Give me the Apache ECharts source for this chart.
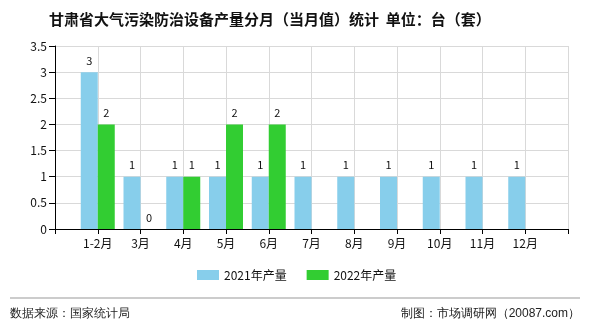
<!DOCTYPE html>
<html><head><meta charset="utf-8">
<script src="https://cdn.jsdelivr.net/npm/echarts@6/dist/echarts.min.js"></script>
<style>html,body{margin:0;padding:0;background:#fff}#c{width:590px;height:330px}</style>
</head><body><div id="c"></div>
<script>
const categories = ['', '1-2月', '3月', '4月', '5月', '6月', '7月', '8月', '9月', '10月', '11月', '12月', ''];
const seriesNames = ['2021年产量', '2022年产量'];
const values2021 = [null, 3, 1, 1, 1, 1, 1, 1, 1, 1, 1, 1, null];
const values2022 = [null, 2, 0, 1, 2, 2, null, null, null, null, null, null, null];
const yTicks = { min: 0, max: 3.5, interval: 0.5 };

const font = 'SimSun, "Noto Sans CJK SC", sans-serif';
const chart = echarts.init(document.getElementById('c'));
chart.setOption({
  animation: false,
  backgroundColor: '#fff',
  title: {
    text: '甘肃省大气污染防治设备产量分月（当月值）统计  单位：台（套）',
    left: 44, top: 7,
    textStyle: { fontSize: 15, fontWeight: 'bold', color: '#111', fontFamily: '"Noto Sans CJK SC", sans-serif' }
  },
  legend: {
    bottom: 44, left: 192,
    itemWidth: 22, itemHeight: 10, itemGap: 20,
    icon: 'rect',
    textStyle: { fontSize: 12, color: '#111', fontFamily: font },
    data: seriesNames
  },
  grid: { left: 55, right: 22, top: 46, bottom: 101 },
  xAxis: {
    type: 'category',
    data: categories,
    boundaryGap: false,
    axisLine: { lineStyle: { color: '#000' } },
    axisTick: { show: true, length: 5, lineStyle: { color: '#000' } },
    axisLabel: { color: '#111', fontSize: 12, fontFamily: font, margin: 8, interval: 0 },
    splitLine: { show: true, lineStyle: { color: '#d9d9d9' } }
  },
  yAxis: {
    type: 'value',
    min: yTicks.min, max: yTicks.max, interval: yTicks.interval,
    axisLine: { show: true, lineStyle: { color: '#000' } },
    axisTick: { show: true, length: 6, lineStyle: { color: '#000' } },
    axisLabel: { color: '#111', fontSize: 12, fontFamily: font, margin: 8 },
    splitLine: { show: true, lineStyle: { color: '#d9d9d9' } }
  },
  series: [
    {
      name: seriesNames[0], type: 'bar', data: values2021,
      barWidth: 17, barGap: '0%',
      itemStyle: { color: '#87CEEB' },
      label: { show: true, position: 'top', color: '#111', fontSize: 11, fontFamily: font, distance: 6 }
    },
    {
      name: seriesNames[1], type: 'bar', data: values2022,
      barWidth: 17, barGap: '0%',
      itemStyle: { color: '#32CD32' },
      label: { show: true, position: 'top', color: '#111', fontSize: 11, fontFamily: font, distance: 6 }
    }
  ],
  graphic: [
    { type: 'line', shape: { x1: 10, y1: 298, x2: 580, y2: 298 }, style: { stroke: '#999', lineWidth: 1 } },
    { type: 'text', left: 10, top: 308, style: { text: '数据来源：国家统计局', fontSize: 12, fill: '#222', font: '12px ' + font } },
    { type: 'text', right: 10, top: 308, style: { text: '制图：市场调研网（20087.com）', fontSize: 12, fill: '#222', font: '12px ' + font } }
  ]
});
</script></body></html>
